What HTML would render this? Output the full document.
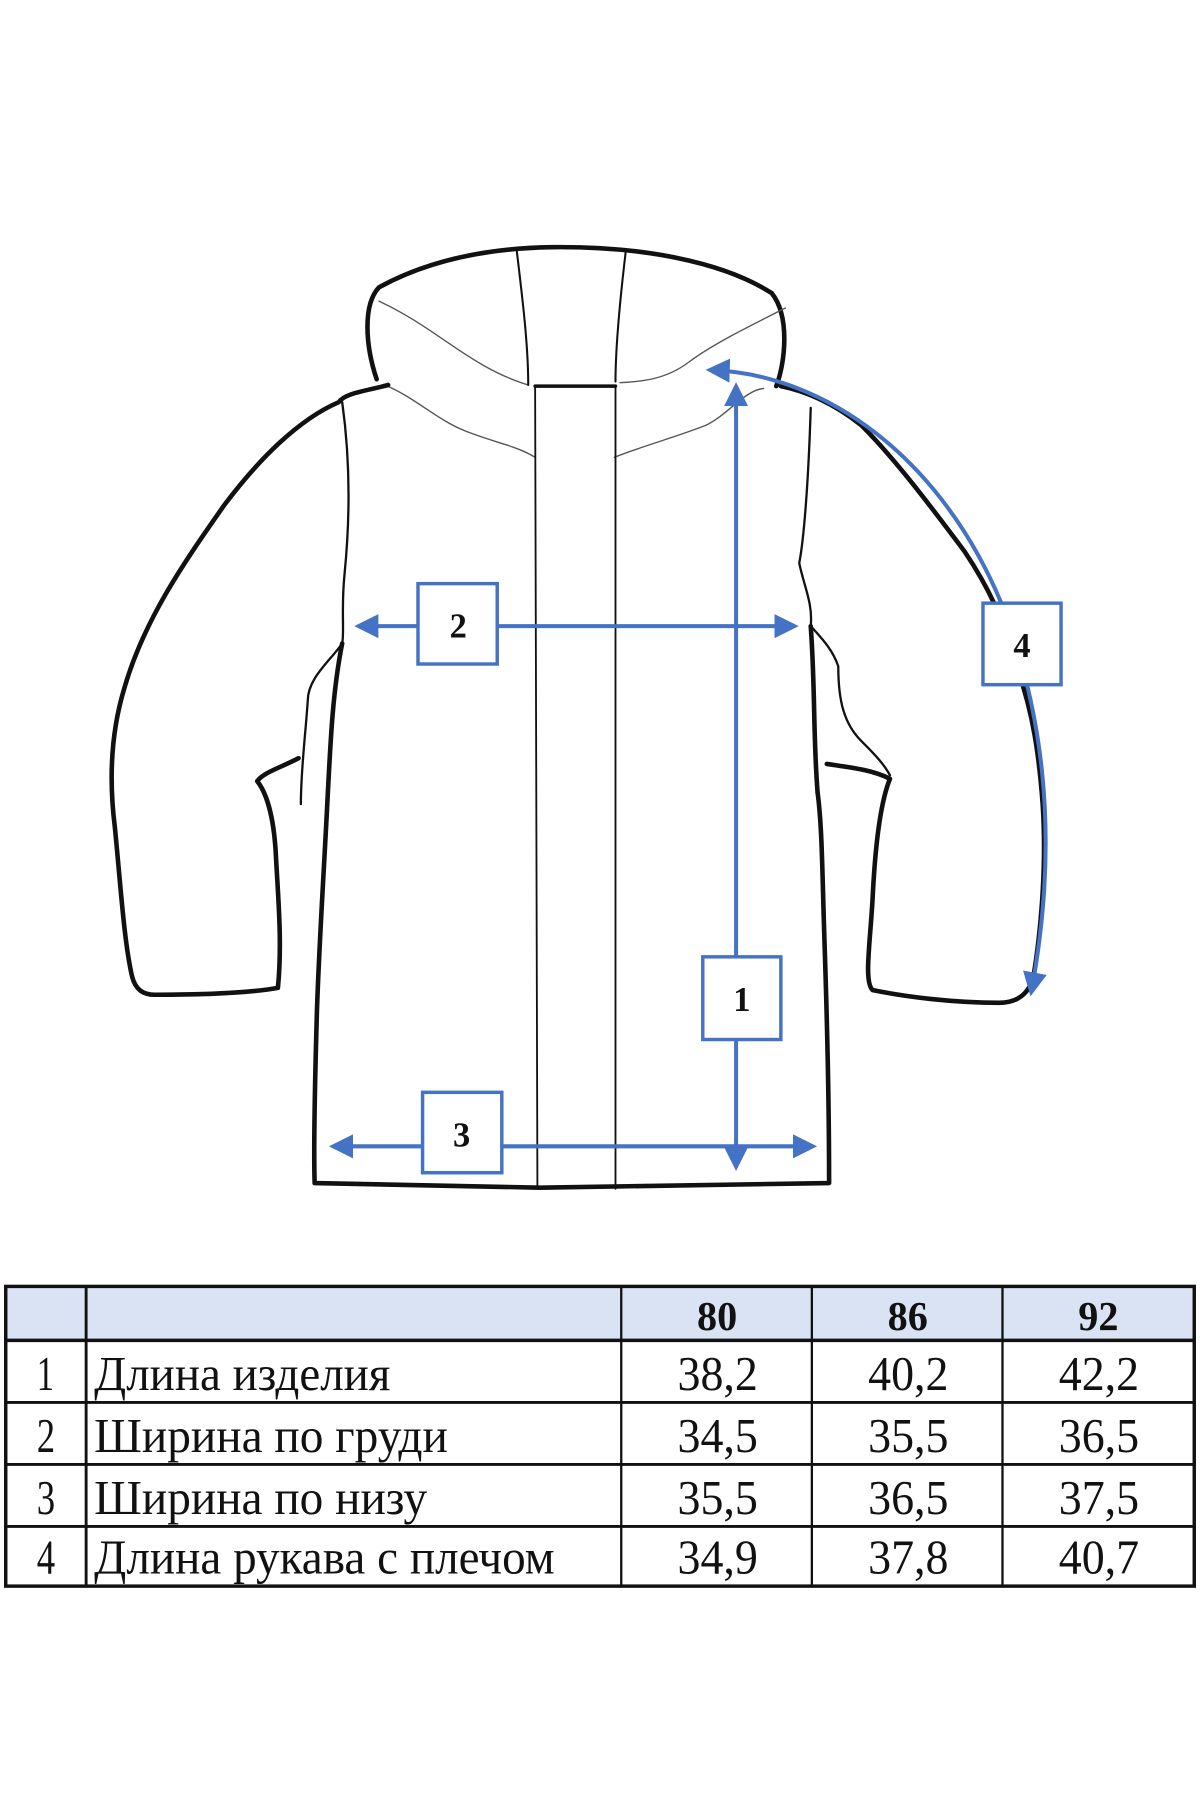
<!DOCTYPE html>
<html><head><meta charset="utf-8"><style>
html,body{margin:0;padding:0;background:#fff;width:1200px;height:1800px;overflow:hidden}
svg{display:block}
</style></head><body>
<svg width="1200" height="1800" viewBox="0 0 1045 1567" xmlns="http://www.w3.org/2000/svg">
<rect x="0" y="0" width="1045" height="1567" fill="#fff"/>
<defs>
<marker id="ah" markerWidth="6" markerHeight="6" refX="5" refY="3" orient="auto-start-reverse" markerUnits="strokeWidth">
<path d="M0,0 L6,3 L0,6 Z" fill="#4472c4"/></marker>
</defs>
<g fill="none" stroke="#111" stroke-linecap="round" stroke-linejoin="round">
<path stroke-width="4" d="M328,330 C318,300 316,265 330,250 C370,228 420,216 480,215 C560,214 630,228 672,255 C688,275 684,315 676,336"/>
<path stroke-width="1.2" stroke="#555" d="M330,262 C380,285 410,320 460,335"/>
<path stroke-width="1.2" stroke="#555" d="M684,268 C650,285 620,300 600,315 C580,330 560,332 540,333"/>
<path stroke-width="1.8" d="M450,218 C455,260 460,300 460,335"/>
<path stroke-width="1.8" d="M545,218 C540,260 536,300 536,332"/>
<path stroke-width="1.2" stroke="#555" d="M335,335 C360,345 380,365 405,375 C430,385 450,388 466,398"/>
<path stroke-width="1.2" stroke="#555" d="M535,398 C560,388 590,380 615,370 C635,360 648,340 665,338"/>
<path stroke-width="3" d="M466,336 L536,336"/>
<path stroke-width="1.6" d="M466,336 L468,1035 M536,336 L536,1035"/>
<path stroke-width="4" d="M338,335 C320,340 300,342 295,350 C260,365 225,400 195,440 C160,490 125,540 108,600 C96,640 95,680 100,720 C105,770 108,820 115,850 C118,862 125,866 135,866 C180,866 220,864 242,860 C246,820 242,780 240,740 C238,710 232,690 224,680 C230,672 245,668 260,660"/>
<path stroke-width="2" d="M298,350 C305,400 305,450 300,500 C297,530 300,550 298,560 C288,575 268,590 268,610 C266,640 262,670 262,700"/>
<path stroke-width="4" d="M298,560 C290,600 288,640 285,700 C282,760 278,820 276,880 C274,950 273,1000 274,1030 L470,1034 L722,1030 C722,960 720,880 718,820 C716,760 716,720 712,690"/>
<path stroke-width="2" d="M706,355 C704,420 700,470 696,490 C700,510 708,525 706,545 C715,555 725,565 730,580 C730,610 735,630 750,645 C760,655 770,665 775,675"/>
<path stroke-width="4" d="M680,336 C700,340 725,350 750,370 C780,400 810,440 840,480 C860,510 875,540 885,580 C900,620 905,660 908,700 C912,760 905,820 900,850 C895,870 880,873 870,873 C830,873 790,868 760,862 C752,855 758,820 760,780 C762,740 766,700 775,678 C760,670 740,668 720,665"/>
<path stroke-width="4" d="M706,545 C710,600 708,640 712,690"/>
</g>
<g stroke="#4472c4" stroke-width="3.5" fill="none">
<line x1="641" y1="336" x2="641" y2="1016" marker-start="url(#ah)" marker-end="url(#ah)"/>
<line x1="312" y1="545" x2="692" y2="545" marker-start="url(#ah)" marker-end="url(#ah)"/>
<line x1="290" y1="998" x2="708" y2="998" marker-start="url(#ah)" marker-end="url(#ah)"/>
<path d="M618,322 C720,325 820,400 872,525 C905,610 925,720 898,864" marker-start="url(#ah)" marker-end="url(#ah)"/>
</g>
<g fill="#fff" stroke="#4472c4" stroke-width="3">
<rect x="612" y="833" width="68" height="72"/>
<rect x="364" y="508" width="69" height="70"/>
<rect x="368" y="951" width="69" height="70"/>
<rect x="856" y="525" width="68" height="71"/>
</g>
<g font-family="'Liberation Serif',serif" font-weight="bold" font-size="30" text-anchor="middle" fill="#111">
<text x="646" y="880">1</text>
<text x="399" y="555">2</text>
<text x="402" y="998">3</text>
<text x="890" y="572">4</text>
</g>
<rect x="6" y="1121" width="1034" height="46" fill="#dae3f3"/>
<g stroke="#111" fill="none">
<rect x="5" y="1120" width="1035" height="261" stroke-width="3"/>
<line x1="5" y1="1167" x2="1040" y2="1167" stroke-width="3"/>
<line x1="5" y1="1221" x2="1040" y2="1221" stroke-width="2.5"/>
<line x1="5" y1="1275" x2="1040" y2="1275" stroke-width="2.5"/>
<line x1="5" y1="1329" x2="1040" y2="1329" stroke-width="2.5"/>
<line x1="75" y1="1120" x2="75" y2="1381" stroke-width="2.5"/>
<line x1="541" y1="1120" x2="541" y2="1381" stroke-width="2"/>
<line x1="707" y1="1120" x2="707" y2="1381" stroke-width="2"/>
<line x1="873" y1="1120" x2="873" y2="1381" stroke-width="2"/>
</g>
<g font-family="'Liberation Serif',serif" fill="#111" lengthAdjust="spacingAndGlyphs">
<g font-weight="bold" font-size="36">
<text x="607" y="1158" textLength="35" lengthAdjust="spacingAndGlyphs">80</text>
<text x="773" y="1158" textLength="35" lengthAdjust="spacingAndGlyphs">86</text>
<text x="939" y="1158" textLength="35" lengthAdjust="spacingAndGlyphs">92</text>
</g>
<g font-size="42">
<text x="32" y="1210" textLength="15" lengthAdjust="spacingAndGlyphs">1</text>
<text x="32" y="1264" textLength="16" lengthAdjust="spacingAndGlyphs">2</text>
<text x="32" y="1318" textLength="16" lengthAdjust="spacingAndGlyphs">3</text>
<text x="32" y="1370" textLength="16" lengthAdjust="spacingAndGlyphs">4</text>
<text x="590" y="1210" textLength="70" lengthAdjust="spacingAndGlyphs">38,2</text>
<text x="756" y="1210" textLength="70" lengthAdjust="spacingAndGlyphs">40,2</text>
<text x="922" y="1210" textLength="70" lengthAdjust="spacingAndGlyphs">42,2</text>
<text x="590" y="1264" textLength="70" lengthAdjust="spacingAndGlyphs">34,5</text>
<text x="756" y="1264" textLength="70" lengthAdjust="spacingAndGlyphs">35,5</text>
<text x="922" y="1264" textLength="70" lengthAdjust="spacingAndGlyphs">36,5</text>
<text x="590" y="1318" textLength="70" lengthAdjust="spacingAndGlyphs">35,5</text>
<text x="756" y="1318" textLength="70" lengthAdjust="spacingAndGlyphs">36,5</text>
<text x="922" y="1318" textLength="70" lengthAdjust="spacingAndGlyphs">37,5</text>
<text x="590" y="1370" textLength="70" lengthAdjust="spacingAndGlyphs">34,9</text>
<text x="756" y="1370" textLength="70" lengthAdjust="spacingAndGlyphs">37,8</text>
<text x="922" y="1370" textLength="70" lengthAdjust="spacingAndGlyphs">40,7</text>
<text x="82" y="1210" textLength="258" lengthAdjust="spacingAndGlyphs">Длина изделия</text>
<text x="82" y="1264" textLength="308" lengthAdjust="spacingAndGlyphs">Ширина по груди</text>
<text x="82" y="1318" textLength="290" lengthAdjust="spacingAndGlyphs">Ширина по низу</text>
<text x="82" y="1370" textLength="401" lengthAdjust="spacingAndGlyphs">Длина рукава с плечом</text>
</g>
</g>
</svg>
</body></html>
